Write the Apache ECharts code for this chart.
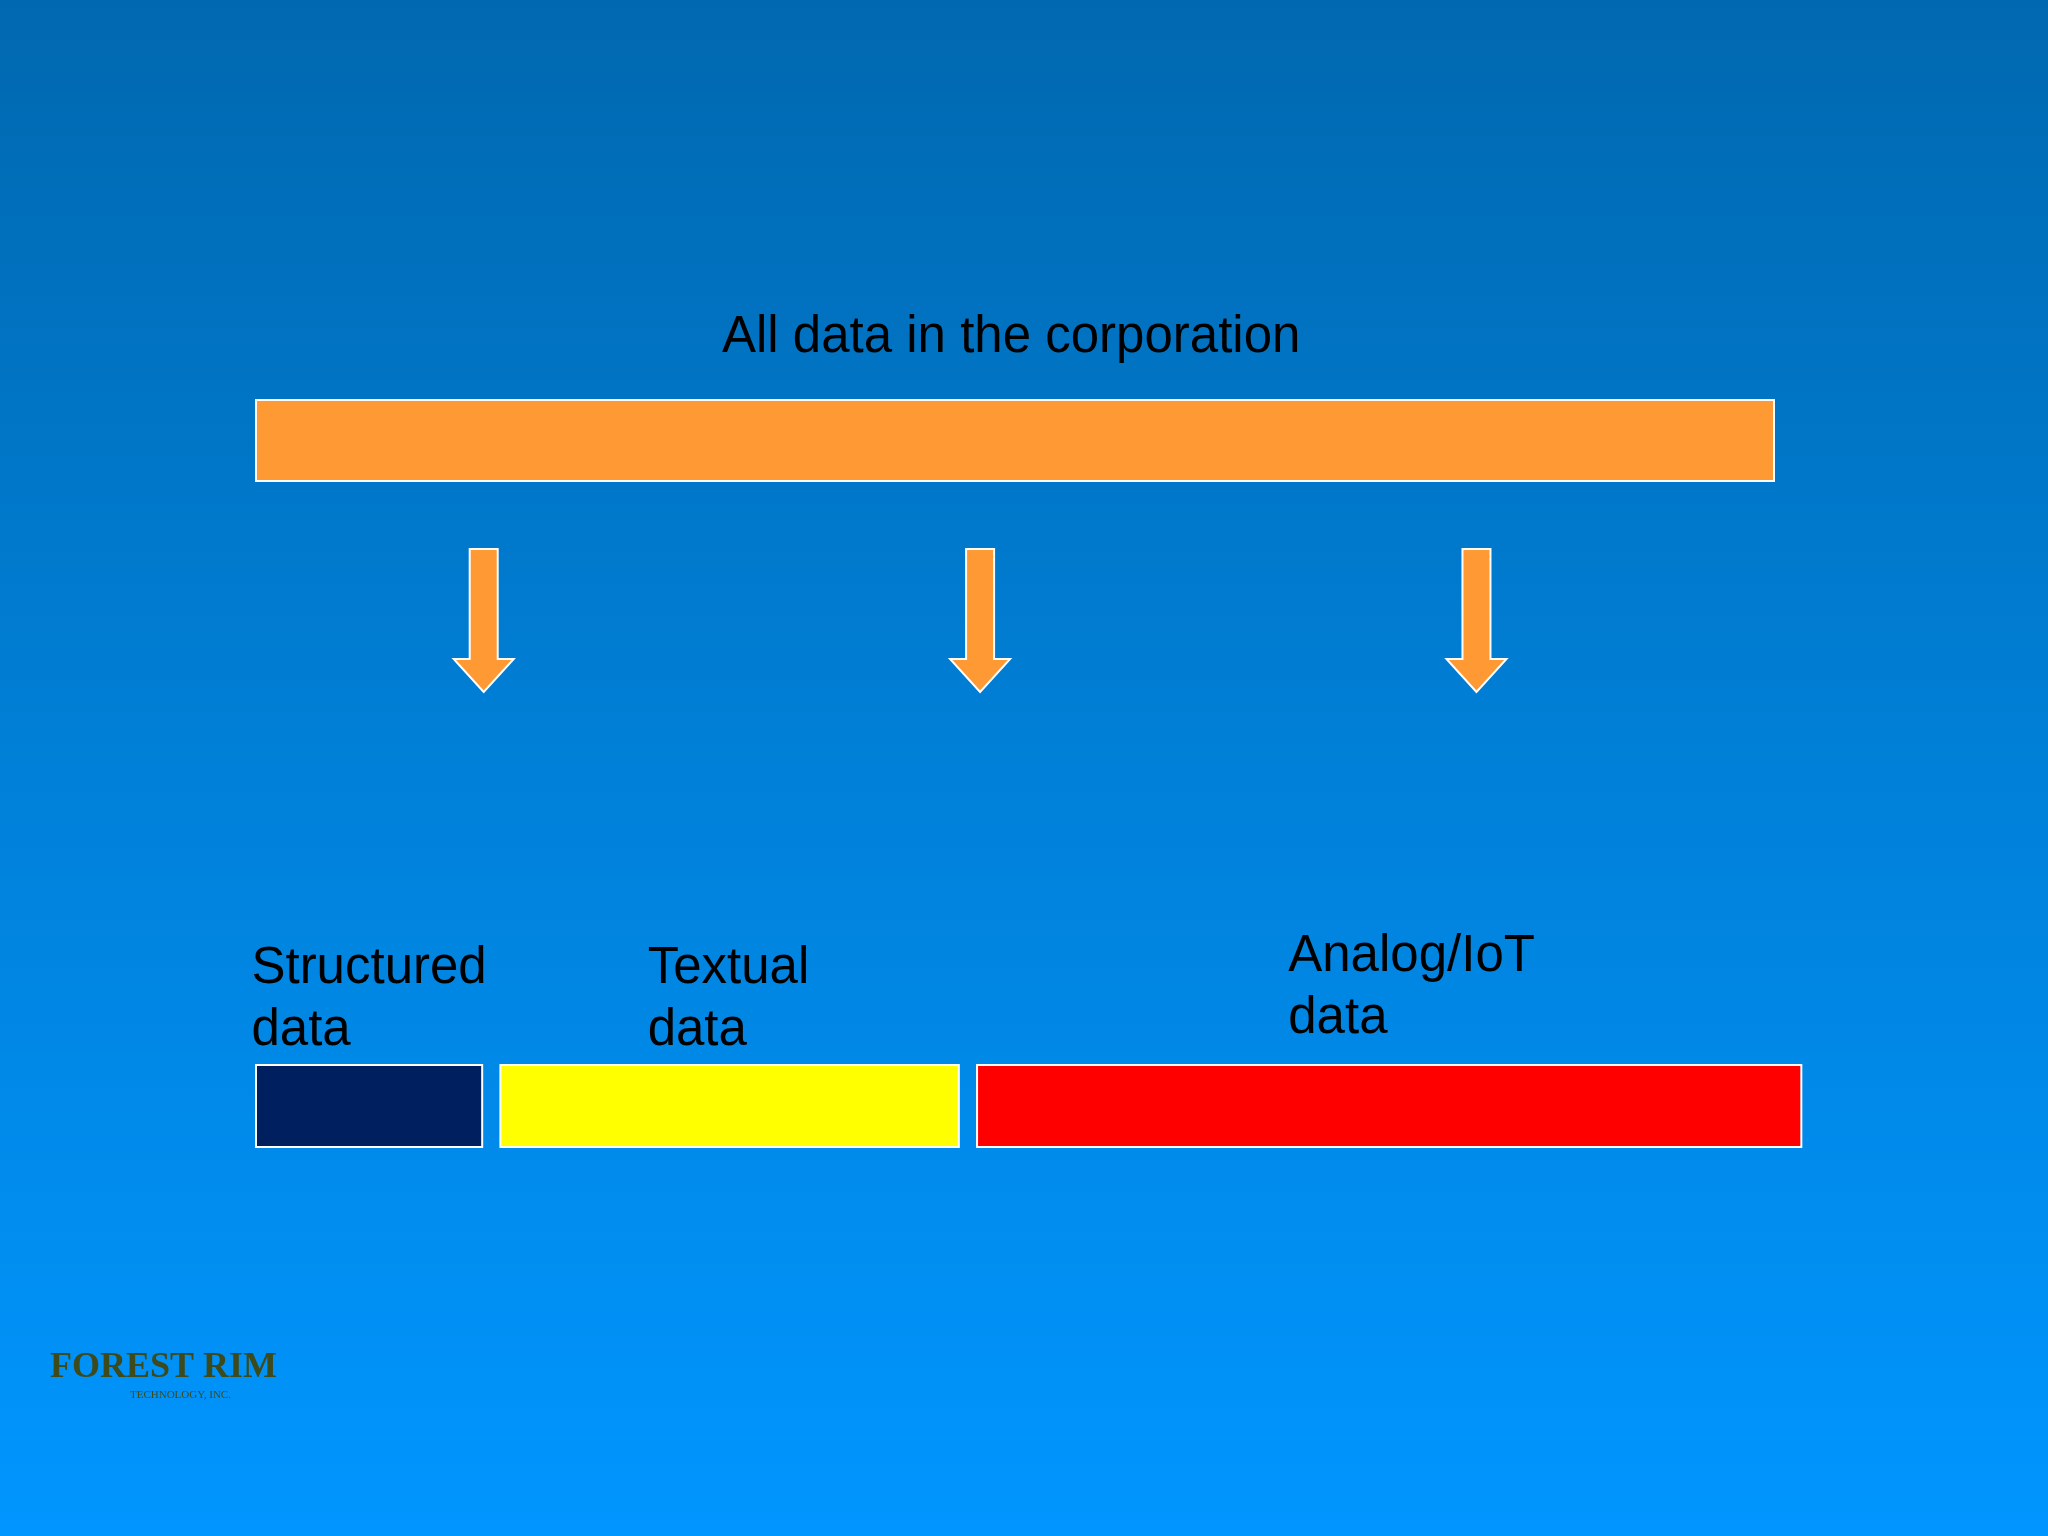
<!DOCTYPE html>
<html>
<head>
<meta charset="utf-8">
<script src="https://cdn.jsdelivr.net/npm/echarts@6/dist/echarts.min.js"></script>
<style>html,body{margin:0;padding:0}#main{width:2048px;height:1536px}</style>
</head>
<body>
<div id="main"></div>
<script>
// share of the corporate data bar (0-100 = full top bar)
var topBar = [0, 100];
var segNames = ['Structured\ndata', 'Textual\ndata', 'Analog/IoT\ndata'];
var segStart = [0, 16.1, 47.5];
var segEnd = [14.9, 46.3, 101.8];
var segColors = ['#001f5f', '#ffff00', '#ff0000'];
var labelX = [-0.3, 25.8, 68.0];
var labelY = [938, 938, 926];
var arrowX = [15.0, 47.7, 80.4];

var chart = echarts.init(document.getElementById('main'));

function rectItem(x0, x1, y0, y1, color) {
  return function (params, api) {
    var p0 = api.coord([x0, y0]), p1 = api.coord([x1, y1]);
    return {type: 'rect', shape: {x: p0[0], y: p0[1], width: p1[0] - p0[0], height: p1[1] - p0[1]},
      style: {fill: color, stroke: '#ffffff', lineWidth: 2}};
  };
}

var series = [];
series.push({
  type: 'custom', data: [[topBar[0], 400]],
  renderItem: rectItem(topBar[0], topBar[1], 400, 481, '#ff9933')
});
series.push({
  type: 'custom', data: arrowX.map(function (x) { return [x, 549]; }),
  renderItem: function (params, api) {
    var p = api.coord([api.value(0), 549]);
    var x = p[0], y = p[1], sw = 14, hw = 30, h = 143, hh = 33;
    return {type: 'polygon', shape: {points: [
      [x - sw, y], [x + sw, y], [x + sw, y + h - hh], [x + hw, y + h - hh],
      [x, y + h], [x - hw, y + h - hh], [x - sw, y + h - hh]]},
      style: {fill: '#ff9933', stroke: '#ffffff', lineWidth: 2}};
  }
});
series.push({
  type: 'custom', data: segStart.map(function (s, i) { return [s, segEnd[i], i]; }),
  renderItem: function (params, api) {
    var i = api.value(2);
    return rectItem(segStart[i], segEnd[i], 1065, 1147, segColors[i])(params, api);
  }
});
series.push({
  type: 'custom', data: labelX.map(function (x, i) { return [x, labelY[i], i]; }),
  renderItem: function (params, api) {
    var i = api.value(2);
    var p = api.coord([api.value(0), api.value(1)]);
    return {type: 'text', style: {x: p[0], y: p[1], text: segNames[i], fill: '#000000',
      font: '51px Liberation Sans, Arial, sans-serif', lineHeight: 62, verticalAlign: 'top'}};
  }
});

chart.setOption({
  animation: false,
  backgroundColor: new echarts.graphic.LinearGradient(0, 0, 0, 1, [
    {offset: 0, color: '#0068b0'}, {offset: 0.5, color: '#0080d8'}, {offset: 1, color: '#0096ff'}]),
  grid: {left: 256, width: 1518, top: 0, height: 1536},
  xAxis: {type: 'value', min: 0, max: 100, show: false},
  yAxis: {type: 'value', min: 0, max: 1536, inverse: true, show: false},
  graphic: [
    {type: 'text', left: 722, top: 312, style: {text: 'All data in the corporation', fill: '#000000',
      font: '51px Liberation Sans, Arial, sans-serif'}},
    {type: 'text', left: 50, top: 1350, style: {text: 'FOREST RIM', fill: '#3d4a1c',
      font: 'bold 36px Liberation Serif, serif'}},
    {type: 'text', left: 130, top: 1390, style: {text: 'TECHNOLOGY, INC.', fill: '#3d4a1c',
      font: '11px Liberation Serif, serif'}}
  ],
  series: series
});
</script>
</body>
</html>
